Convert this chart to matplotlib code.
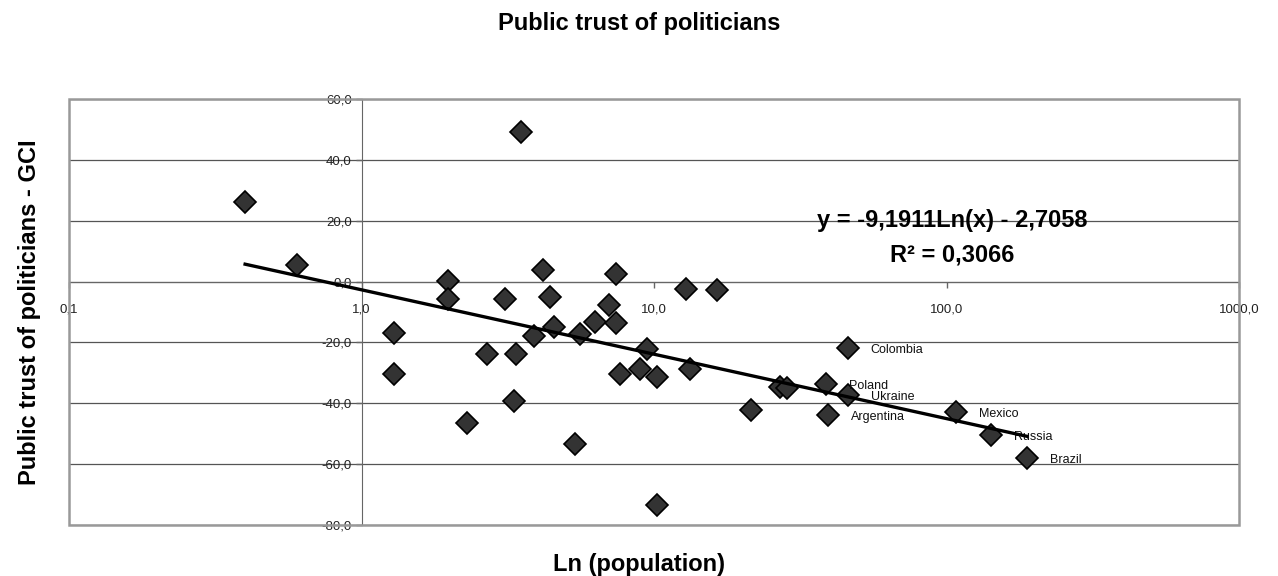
import numpy as np
import matplotlib
matplotlib.use("Agg")
import matplotlib.pyplot as plt
from matplotlib.patches import Rectangle
from matplotlib.ticker import FixedLocator, FuncFormatter, NullLocator

plt.rcParams['font.family'] = ['Liberation Sans', 'DejaVu Sans']

# population (millions) and trust score
population = [0.40, 0.60, 1.29, 1.29, 1.98, 1.98, 2.30, 2.69, 3.09, 3.38,
              3.32, 3.51, 3.89, 4.18, 4.41, 4.55, 5.37, 5.59, 6.29, 7.02,
              7.41, 7.41, 7.65, 8.96, 9.47, 10.24, 10.24, 12.9, 13.3, 16.4,
              21.5, 27.0, 28.5, 38.7, 39.3, 46.0, 46.0, 107.7, 142.0, 188.0]
trust = [26.2, 5.3, -16.9, -30.5, 0.3, -5.7, -46.6, -23.8, -5.7, -23.8,
         -39.2, 49.2, -17.9, 3.8, -5.1, -14.9, -53.4, -17.2, -13.3, -7.7,
         2.5, -13.6, -30.4, -28.7, -22.1, -31.4, -73.4, -2.4, -28.7, -2.8,
         -42.2, -34.6, -35.0, -33.7, -43.8, -21.8, -37.3, -42.9, -50.4, -58.0]

# labelled countries: (name, index into the arrays above)
labelled = [("Poland", 33), ("Argentina", 34), ("Colombia", 35), ("Ukraine", 36),
            ("Mexico", 37), ("Russia", 38), ("Brazil", 39)]

slope = -9.1911
intercept = -2.7058
eq_text = "y = -9,1911Ln(x) - 2,7058"
r2_text = "R\u00b2 = 0,3066"

x_ticks = [0.1, 1, 10, 100, 1000]
y_ticks = [-80, -60, -40, -20, 0, 20, 40, 60]


def comma_fmt(v, pos=None):
    return ("%.1f" % v).replace(".", ",")


fig = plt.figure(figsize=(12.78, 5.76), dpi=100)
ax = fig.add_axes([69 / 1278, 51 / 576, 1170 / 1278, 426 / 576])

ax.set_xscale("log")
ax.set_xlim(0.1, 1000)
ax.set_ylim(-80, 60)

# horizontal gridlines only
ax.yaxis.grid(True, color="#555555", lw=0.9, zorder=0)
ax.set_axisbelow(True)

# axes cross at x=1, y=0 like the Excel original
for s in ["top", "right"]:
    ax.spines[s].set_visible(False)
ax.spines["left"].set_position(("data", 1))
ax.spines["bottom"].set_position(("data", 0))
ax.spines["left"].set_color("#666666")
ax.spines["bottom"].set_color("#666666")

ax.add_patch(Rectangle((0, 0), 1, 1, transform=ax.transAxes, fill=False,
                       ec="#999999", lw=1.8, clip_on=False, zorder=5))

ax.xaxis.set_major_locator(FixedLocator(x_ticks))
ax.xaxis.set_minor_locator(NullLocator())
ax.xaxis.set_major_formatter(FuncFormatter(comma_fmt))
ax.yaxis.set_major_locator(FixedLocator(y_ticks))
ax.yaxis.set_major_formatter(FuncFormatter(comma_fmt))
ax.tick_params(axis="x", direction="out", length=4, width=1, color="#666666",
               pad=12, labelsize=9.5, labelcolor="#222222")
ax.tick_params(axis="y", direction="out", length=4, width=1, color="#666666",
               pad=3, labelsize=9.5, labelcolor="#222222")

ax.plot(population, trust, linestyle="none", marker="D", markersize=11,
        markerfacecolor="#333333", markeredgecolor="#000000",
        markeredgewidth=1.2, zorder=3, clip_on=False)

# logarithmic trendline with the coefficients printed on the chart
xs = np.sort(np.array(population))
ax.plot(xs, slope * np.log(xs) + intercept, color="black", lw=2.4, zorder=4)

for name, i in labelled:
    ax.annotate(name, (population[i], trust[i]), xytext=(16.5, -1.5),
                textcoords="offset points", ha="left", va="center",
                fontsize=9, color="#111111", zorder=3)

eq_x = 0.755
ax.text(eq_x, 1 - (221 - 99) / 426, eq_text, transform=ax.transAxes,
        ha="center", va="center", fontsize=17, fontweight="bold", zorder=6)
ax.text(eq_x, 1 - (255 - 99) / 426, r2_text, transform=ax.transAxes,
        ha="center", va="center", fontsize=17, fontweight="bold", zorder=6)

fig.text(0.5, 1 - 30 / 576, "Public trust of politicians", ha="center",
         va="baseline", fontsize=17, fontweight="bold")
fig.text(0.5, 5 / 576, "Ln (population)", ha="center", va="baseline",
         fontsize=17, fontweight="bold")
fig.text(30 / 1278, 1 - 312 / 576, "Public trust of politicians - GCI",
         rotation=90, ha="center", va="center", fontsize=17, fontweight="bold")

fig.savefig("out.png", dpi=100)
